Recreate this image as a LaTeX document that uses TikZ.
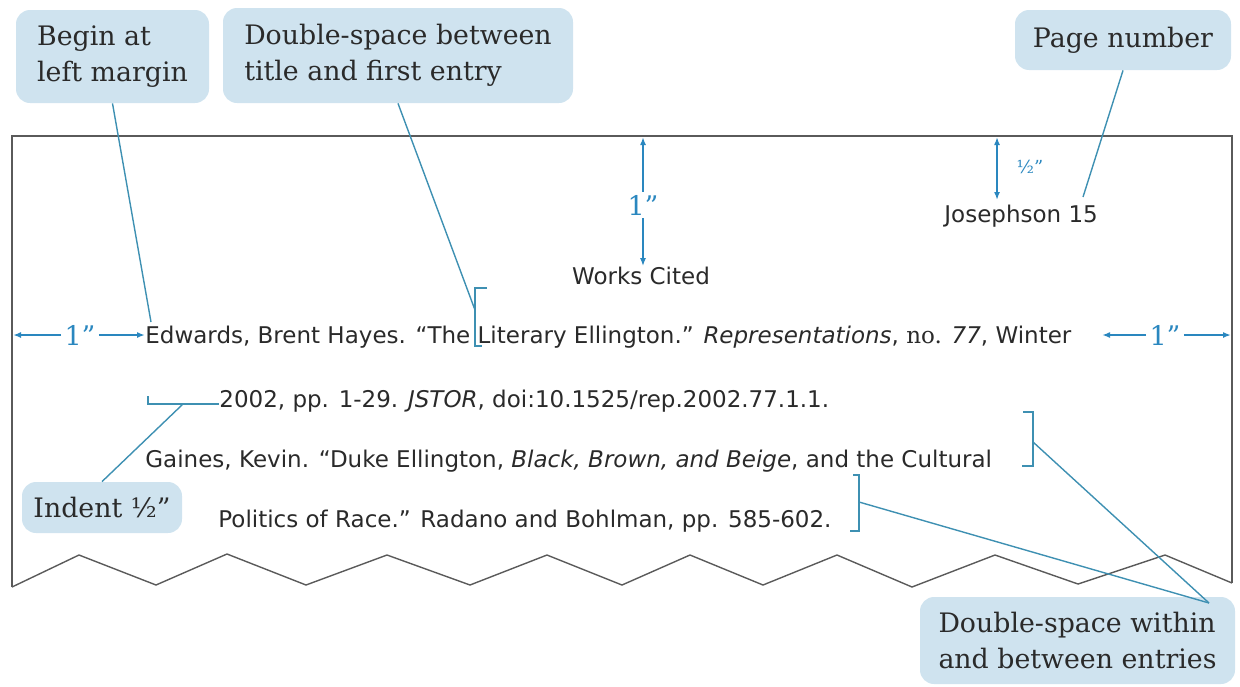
\documentclass[tikz,border=0pt]{standalone}
\usepackage{fontspec}
\setmainfont{DejaVu Serif}
\newfontfamily\bodyfont{DejaVu Sans}
\usetikzlibrary{arrows.meta}
\definecolor{boxfill}{HTML}{CFE3EF}
\definecolor{leader}{HTML}{3E90B2}
\definecolor{dim}{HTML}{2A87BF}
\definecolor{framecol}{HTML}{5A5A5A}
\definecolor{ink}{HTML}{2A2A2A}
\begin{document}
\begin{tikzpicture}[x=0.5pt,y=-0.5pt,
  callout/.style={fill=boxfill, rounded corners=7pt, inner sep=0pt, font=\fontsize{13.4}{18}\selectfont, text=ink, align=left},
  entry/.style={anchor=base west, inner sep=0pt, font=\bodyfont\fontsize{11.5}{12}\selectfont, text=ink},
  lead/.style={draw=leader, line width=0.7pt},
  dimline/.style={draw=dim, line width=0.8pt},
  dimtip/.style={-{Latex[length=4pt,width=3pt]}},
  dimboth/.style={{Latex[length=4pt,width=3pt]}-{Latex[length=4pt,width=3pt]}},
  dimlabel/.style={text=dim, font=\fontsize{13.5}{13.5}\selectfont, inner sep=1.5pt},
]
\useasboundingbox (0,0) rectangle (1240,686);

% page frame and torn edge
\draw[framecol, line width=1pt] (12,587) -- (12,136) -- (1232,136) -- (1232,583);
\draw[framecol, line width=0.7pt, line join=miter] (12,587) -- (79,555) -- (156,585) -- (227,554) -- (306,585) -- (387,555) -- (470,585) -- (547,555) -- (622,585) -- (690,555) -- (763,585) -- (837,555) -- (912,587) -- (995,555) -- (1078,584) -- (1165,555) -- (1232,583);

% callouts
\node[callout, minimum width=96.5pt, minimum height=46.5pt] (begin) at (112.5,56.5) {Begin at\\left margin};
\node[callout, minimum width=175pt, minimum height=47.5pt] (dbl) at (398,55.5) {Double-space between\\title and first entry};
\node[callout, minimum width=108pt, minimum height=30pt] (page) at (1123,40) {Page number};
\node[callout, minimum width=80pt, minimum height=25.5pt] (indent) at (102,507.5) {Indent ½”};
\node[callout, minimum width=157.5pt, minimum height=43.5pt] (within) at (1077.5,640.5) {Double-space within\\and between entries};

% page text
\node[entry, anchor=base] (works) at (641,284) {Works Cited};
\node[entry] (jos) at (944,222) {Josephson 15};
\node[entry] (l1) at (145,343) {Edwards, Brent Hayes. “The Literary Ellington.” \textit{Representations}, {\rmfamily no.} \textit{77}, Winter};
\node[entry] (l2) at (219,407) {2002, pp. 1-29. \textit{JSTOR}, doi:10.1525/rep.2002.77.1.1.};
\node[entry] (l3) at (145,467) {Gaines, Kevin. “Duke Ellington, \textit{Black, Brown, and Beige}, and the Cultural};
\node[entry] (l4) at (218,527) {Politics of Race.” Radano and Bohlman, pp. 585-602.};

% dimension markers
\coordinate (topA) at (643,137);
\node[dimlabel] (oneTop) at (643,205) {1”};
\draw[dimline, dimtip] (oneTop.north) -- (topA);
\draw[dimline, dimtip] (oneTop.south) -- (oneTop.south |- works.north);

\coordinate (hA) at (997,137);
\coordinate (hB) at (997,200);
\draw[dimline, dimboth] (hA) -- (hB);
\node[dimlabel, font=\fontsize{9}{9}\selectfont] (half) at (1030,167) {½”};

\coordinate (lA) at (13,335);
\node[dimlabel] (oneL) at (80,335) {1”};
\draw[dimline, dimtip] (oneL.west) -- (lA);
\draw[dimline, dimtip] (oneL.east) -- (oneL.east -| l1.west);

\coordinate (rA) at (1102,335);
\coordinate (rB) at (1231,335);
\node[dimlabel] (oneR) at (1165,335) {1”};
\draw[dimline, dimtip] (oneR.west) -- (rA);
\draw[dimline, dimtip] (oneR.east) -- (rB);

% brackets
\draw[lead] (487,288) -- (475,288) -- (475,346) -- (482,346);
\draw[lead] (148,396) -- (148,404) -- (219,404);
\draw[lead] (1023,412) -- (1033,412) -- (1033,466) -- (1022,466);
\draw[lead] (853,475) -- (859,475) -- (859,531) -- (850,531);

% leaders
\coordinate (bgEnd) at (151,322);
\coordinate (litBr) at (475,310);
\coordinate (josEnd) at (1083,197);
\coordinate (indBr) at (183,404);
\coordinate (brOne) at (1033,442);
\coordinate (brTwo) at (859,502);
\coordinate (wtip) at (1209,603);
\draw[lead] (begin.south) -- (bgEnd);
\draw[lead] (dbl.south) -- (litBr);
\draw[lead] (page.south) -- (josEnd);
\draw[lead] (indBr) -- (indent.north);
\draw[lead] (brOne) -- (wtip);
\draw[lead] (brTwo) -- (wtip);
\end{tikzpicture}
\end{document}
